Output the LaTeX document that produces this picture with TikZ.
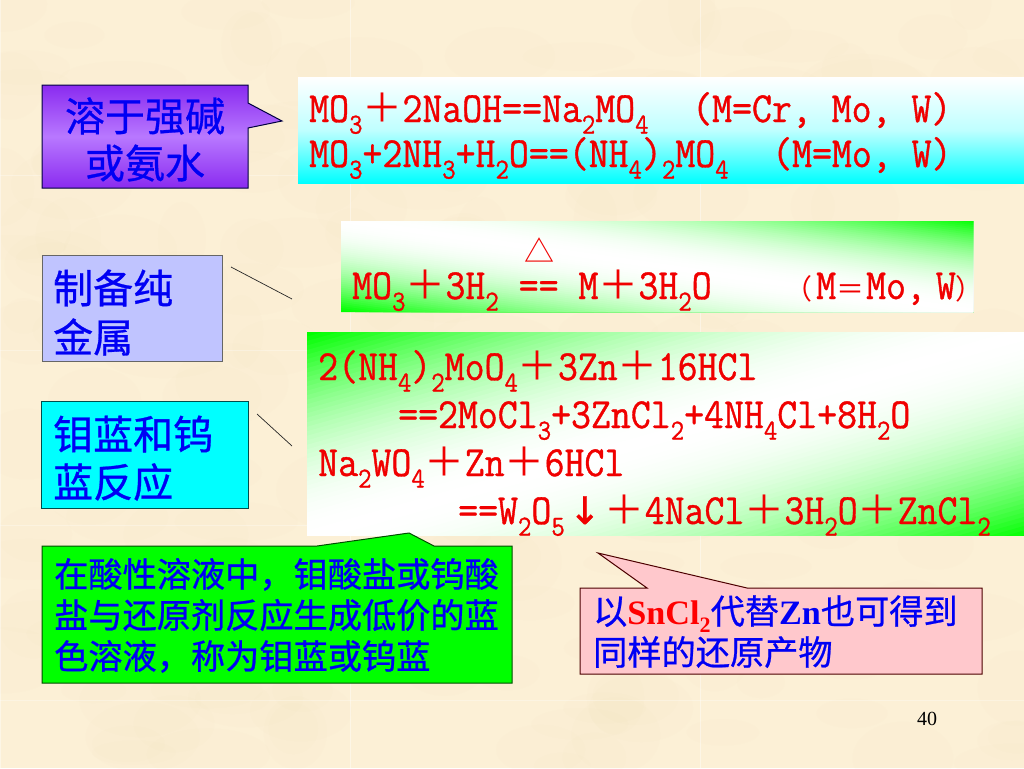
\documentclass[tikz,border=0pt]{standalone}
\usepackage{fontspec}
\setmainfont{Liberation Serif}
\newfontfamily\cjk{Noto Sans CJK SC}
\newfontfamily\cjkb[FakeBold=0.7]{Noto Sans CJK SC}
\newfontfamily\chem[FakeBold=0.9,FakeStretch=0.9]{Latin Modern Mono}
\newfontfamily\sym[FakeBold=1]{DejaVu Sans}
\definecolor{parch}{HTML}{FCF0D6}
\definecolor{mott}{HTML}{F2DBB0}
\definecolor{labelblue}{HTML}{0000F4}
\definecolor{chemred}{HTML}{F00000}
\definecolor{gr}{HTML}{00FF00}
\definecolor{cy}{HTML}{00FFFF}
\definecolor{purpa}{HTML}{8A2BF0}
\definecolor{purpb}{HTML}{B878FF}
\definecolor{lav}{HTML}{C0C4FF}
\definecolor{pinkbox}{HTML}{FFC8CC}
\newcommand\sbs[1]{\raisebox{-0.27em}[0pt][0pt]{\fontsize{29}{29}\selectfont #1}}
\newcommand\fp{\smash{\cjk\fontsize{40}{40}\selectfont ＋}}
% diagonal white-in-the-middle green gradient, painted as bands in unit-square coordinates
\newcommand\diagbands{%
  \clip (0,0) rectangle (1,1);
  \foreach \k in {0,...,90}{
    \pgfmathsetmacro\s{2*\k/90}
    \pgfmathsetmacro\pc{100*((\s-1)^2)}
    \fill[gr!\pc!white] (\s,0) -- (0,\s) -- (0,3) -- (3,3) -- (3,0) -- cycle;
  }%
}
\tikzset{
  chemtext/.style={anchor=base west,inner sep=0pt,text=chemred,font=\chem\fontsize{43}{43}\selectfont},
  cntext/.style={inner sep=0pt,text=labelblue,font=\cjkb\fontsize{40}{40}\selectfont},
  smalltext/.style={anchor=base west,inner sep=0pt,text=labelblue,font=\cjkb\fontsize{34.2}{34.2}\selectfont},
  leader/.style={draw=black!85,line width=0.7pt}
}
\begin{document}
\begin{tikzpicture}[x=1pt,y=-1pt]
\useasboundingbox (0,0) rectangle (1024,768);
\fill[parch] (0,0) rectangle (1024,768);
% mottled paper
\pgfmathsetseed{40}
\foreach \i in {1,...,220}{
  \pgfmathsetmacro\px{rnd*1024}
  \pgfmathsetmacro\py{rnd*768}
  \pgfmathsetmacro\ra{20+rnd*45}
  \pgfmathsetmacro\rb{12+rnd*28}
  \fill[mott,opacity=0.05] (\px,\py) ellipse [x radius=\ra, y radius=\rb];
}
\foreach \v in {0,350,700}{\draw[white,opacity=.4,line width=1pt] (\v,0) -- (\v,768);}
\foreach \v in {0,175,350,525,700}{\draw[white,opacity=.3,line width=1pt] (0,\v) -- (1024,\v);}

% gradient panels
\shade[top color=white,bottom color=cy,middle color=cy!25!white] (298,77) rectangle (1024,183);
\begin{scope}[shift={(341pt,-312pt)},x=632pt,y=91pt]
  \diagbands
\end{scope}
\begin{scope}[shift={(307pt,-332pt)},x=717pt,y=-203pt]
  \diagbands
\end{scope}

% label boxes
\draw[draw=black!75!blue,line width=1pt,top color=purpa,bottom color=purpa,middle color=purpb]
  (42,85) -- (248,85) -- (248,103) -- (282,121) -- (248,128) -- (248,188) -- (42,188) -- cycle;
\draw[draw=black!60,line width=1pt,fill=lav] (42,255) rectangle (222,361);
\draw[draw=teal!60!black,line width=1pt,fill=cy] (41,401) rectangle (248,508);
\draw[draw=black!70!green,line width=1pt,fill=gr]
  (42,546) -- (317,546) -- (409,533) -- (434,546) -- (512,546) -- (512,683) -- (42,683) -- cycle;
\draw[draw=black!70!red,line width=1pt,fill=pinkbox]
  (580,588) -- (647,588) -- (598,553) -- (747,588) -- (982,588) -- (982,674) -- (580,674) -- cycle;

% leader lines
\coordinate (la) at (231,267);
\coordinate (lb) at (292,299);
\coordinate (lc) at (257,414);
\coordinate (ld) at (292,446);
\draw[leader] (la) -- (lb);
\draw[leader] (lc) -- (ld);

% label text
\node[cntext] (t1) at (145,116) {溶于强碱};
\node[cntext] (t2) at (145,163) {或氨水};
\node[cntext,anchor=west] (t3) at (53,288) {制备纯};
\node[cntext,anchor=west] (t4) at (53,337) {金属};
\node[cntext,anchor=west] (t5) at (53,434) {钼蓝和钨};
\node[cntext,anchor=west] (t6) at (53,482) {蓝反应};

% first panel
\node[chemtext] (c1) at (309,122) {MO\sbs{3}\fp 2NaOH==Na\sbs{2}MO\sbs{4}};
\node[chemtext] (c1b) at (692,122) {(M=Cr, Mo, W)};
\node[chemtext] (c2) at (309,167) {MO\sbs{3}+2NH\sbs{3}+H\sbs{2}O==(NH\sbs{4})\sbs{2}MO\sbs{4}};
\node[chemtext] (c2b) at (772,167) {(M=Mo, W)};

% second panel
\node[anchor=base,inner sep=0pt,text=chemred,font=\cjk\fontsize{30}{30}\selectfont] (c3a) at (539,262) {△};
\node[chemtext] (c3) at (352,299) {MO\sbs{3}\fp 3H\sbs{2} == M\fp 3H\sbs{2}O};
\node[chemtext] (c3b) at (784,299) {{\cjk\fontsize{28}{28}\selectfont （}\hspace{4pt}M{\cjk\fontsize{28}{28}\selectfont ＝}\hspace{2pt}Mo,\hspace{10pt}W{\cjk\fontsize{28}{28}\selectfont ）}};

% third panel
\node[chemtext] (c4) at (318,380) {2(NH\sbs{4})\sbs{2}MoO\sbs{4}\fp 3Zn\fp 16HCl};
\node[chemtext] (c5) at (398,428) {==2MoCl\sbs{3}+3ZnCl\sbs{2}+4NH\sbs{4}Cl+8H\sbs{2}O};
\node[chemtext] (c6) at (318,476) {Na\sbs{2}WO\sbs{4}\fp Zn\fp 6HCl};
\node[chemtext] (c7) at (458,524) {==W\sbs{2}O\sbs{5}\makebox[40pt][c]{\sym\fontsize{38}{38}\selectfont ↓}\fp 4NaCl\fp 3H\sbs{2}O\fp ZnCl\sbs{2}};

% green note
\node[smalltext] (g1) at (54,587) {在酸性溶液中，钼酸盐或钨酸};
\node[smalltext] (g2) at (54,628) {盐与还原剂反应生成低价的蓝};
\node[smalltext] (g3) at (54,669) {色溶液，称为钼蓝或钨蓝};

% pink note
\node[smalltext] (p1) at (593,624) {以{\rmfamily\bfseries\textcolor{red}{SnCl\raisebox{-0.25em}{\fontsize{22}{22}\selectfont 2}}}代替{\rmfamily\bfseries Zn}也可得到};
\node[smalltext] (p2) at (593,665) {同样的还原产物};

\node[anchor=base,inner sep=0pt,font=\rmfamily\fontsize{20}{20}\selectfont] (pg) at (927,725) {40};
\end{tikzpicture}
\end{document}
